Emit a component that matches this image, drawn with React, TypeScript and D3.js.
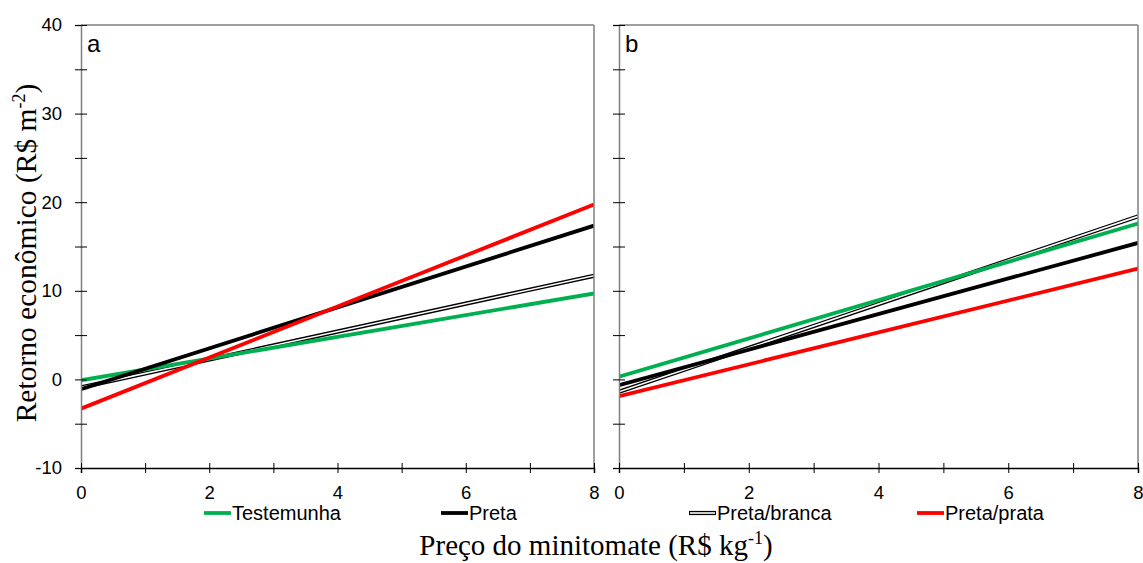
import { useRef, useEffect } from 'react';
import * as d3 from 'd3';

// price of minitomato (R$ kg-1): lines are straight, so endpoints at x = 0 and x = 8
const priceX = [0, 8];
const seriesNames = ['Testemunha', 'Preta', 'Preta/branca', 'Preta/prata'];
const seriesColors = ['#00b050', '#000000', 'double', '#ff0000'];

// panel a: return (R$ m-2) at price 0 and 8
const aTestemunha = [-0.1, 9.7];
const aPreta = [-1.1, 17.35];
const aPretaBranca = [-0.9, 11.7];
const aPretaPrata = [-3.3, 19.75];

// panel b
const bTestemunha = [0.3, 17.6];
const bPreta = [-0.65, 15.4];
const bPretaBranca = [-1.4, 18.4];
const bPretaPrata = [-1.9, 12.5];

const yTicks = [-10, -5, 0, 5, 10, 15, 20, 25, 30, 35, 40];
const yLabels = [-10, 0, 10, 20, 30, 40];
const xTicks = [0, 1, 2, 3, 4, 5, 6, 7, 8];
const xLabels = [0, 2, 4, 6, 8];

const panels = [
  { key: 'a', left: 81, right: 594, series: [aTestemunha, aPreta, aPretaBranca, aPretaPrata], yLabels: true },
  { key: 'b', left: 619, right: 1138, series: [bTestemunha, bPreta, bPretaBranca, bPretaPrata], yLabels: false },
];

export default function App() {
  const svgRef = useRef<SVGSVGElement>(null);

  useEffect(() => {
    if (!svgRef.current) return;
    const svg = d3.select(svgRef.current);
    svg.selectAll('*').remove();

    const top = 25, bottom = 468;
    const y = d3.scaleLinear().domain([-10, 40]).range([bottom, top]);
    const sans = 'Liberation Sans, Arial, sans-serif';
    const serif = 'Liberation Serif, Times New Roman, serif';
    const frame = '#7f7f7f';

    panels.forEach((p) => {
      const x = d3.scaleLinear().domain([0, 8]).range([p.left, p.right]);
      const g = svg.append('g');

      // lines (clipped to frame)
      const clipId = `clip-${p.key}`;
      svg.append('defs').append('clipPath').attr('id', clipId)
        .append('rect').attr('x', p.left).attr('y', top).attr('width', p.right - p.left).attr('height', bottom - top);
      const lg = g.append('g').attr('clip-path', `url(#${clipId})`);
      const line = d3.line<[number, number]>().x((d) => x(d[0])).y((d) => y(d[1]));
      const order = [2, 0, 1, 3];
      order.forEach((i) => {
        const vals = p.series[i];
        const pts: [number, number][] = priceX.map((px, k) => [px, vals[k]]);
        if (seriesColors[i] === 'double') {
          lg.append('path').attr('d', line(pts)).attr('fill', 'none').attr('stroke', '#000').attr('stroke-width', 4.2);
          lg.append('path').attr('d', line(pts)).attr('fill', 'none').attr('stroke', '#fff').attr('stroke-width', 1.6);
        } else {
          lg.append('path').attr('d', line(pts)).attr('fill', 'none')
            .attr('stroke', seriesColors[i]).attr('stroke-width', 3.8);
        }
      });

      // frame
      g.append('line').attr('x1', p.left).attr('x2', p.right).attr('y1', top).attr('y2', top).attr('stroke', frame).attr('stroke-width', 1.5);
      g.append('line').attr('x1', p.right).attr('x2', p.right).attr('y1', top).attr('y2', bottom).attr('stroke', frame).attr('stroke-width', 1.5);

      // y axis
      const ya = g.append('g').attr('transform', `translate(${p.left},0)`)
        .call(d3.axisLeft(y).tickValues(yTicks).tickSize(6)
          .tickFormat((d) => (p.yLabels && yLabels.includes(+d) ? String(d) : '')));
      ya.select('.domain').attr('stroke', frame).attr('stroke-width', 1.5);
      ya.selectAll('.tick line').attr('x1', 6).attr('x2', -6).attr('stroke', '#000');
      ya.selectAll('.tick text').attr('x', -19).attr('font-size', 18.5).attr('font-family', sans).attr('fill', '#000');

      // x axis
      const xa = g.append('g').attr('transform', `translate(0,${bottom})`)
        .call(d3.axisBottom(x).tickValues(xTicks).tickSize(5)
          .tickFormat((d) => (xLabels.includes(+d) ? String(d) : '')));
      xa.select('.domain').attr('stroke', '#000').attr('stroke-width', 1.5);
      xa.selectAll('.tick line').attr('y1', -5).attr('y2', 5).attr('stroke', '#000');
      xa.selectAll('.tick text').attr('y', 18).attr('font-size', 18.5).attr('font-family', sans).attr('fill', '#000');

      g.append('text').attr('x', p.left + 6).attr('y', 52).attr('font-size', 24).attr('font-family', sans).text(p.key);
    });

    // legend
    const legendPos = [204, 441, 689, 917];
    seriesNames.forEach((name, i) => {
      const lx = legendPos[i], ly = 513;
      if (seriesColors[i] === 'double') {
        svg.append('line').attr('x1', lx).attr('x2', lx + 27).attr('y1', ly).attr('y2', ly).attr('stroke', '#000').attr('stroke-width', 4.2);
        svg.append('line').attr('x1', lx + 1).attr('x2', lx + 26).attr('y1', ly).attr('y2', ly).attr('stroke', '#fff').attr('stroke-width', 1.6);
      } else {
        svg.append('line').attr('x1', lx).attr('x2', lx + 27).attr('y1', ly).attr('y2', ly).attr('stroke', seriesColors[i]).attr('stroke-width', 3.8);
      }
      svg.append('text').attr('x', lx + 28).attr('y', 520).attr('font-size', 20).attr('font-family', sans).text(name);
    });

    // axis titles
    const xt = svg.append('text').attr('x', 596).attr('y', 555).attr('text-anchor', 'middle')
      .attr('font-size', 29).attr('font-family', serif);
    xt.append('tspan').text('Preço do minitomate (R$ kg');
    xt.append('tspan').attr('font-size', 18).attr('dy', -11).text('-1');
    xt.append('tspan').attr('dy', 11).text(')');

    const yt = svg.append('text').attr('transform', 'translate(36,253) rotate(-90)').attr('text-anchor', 'middle')
      .attr('font-size', 29.5).attr('font-family', serif);
    yt.append('tspan').text('Retorno econômico (R$ m');
    yt.append('tspan').attr('font-size', 18).attr('dy', -11).text('-2');
    yt.append('tspan').attr('dy', 11).text(')');
  }, []);

  return (
    <svg ref={svgRef} width={1143} height={563}
      style={{ position: 'absolute', left: 0, top: 0, background: '#fff' }} />
  );
}
